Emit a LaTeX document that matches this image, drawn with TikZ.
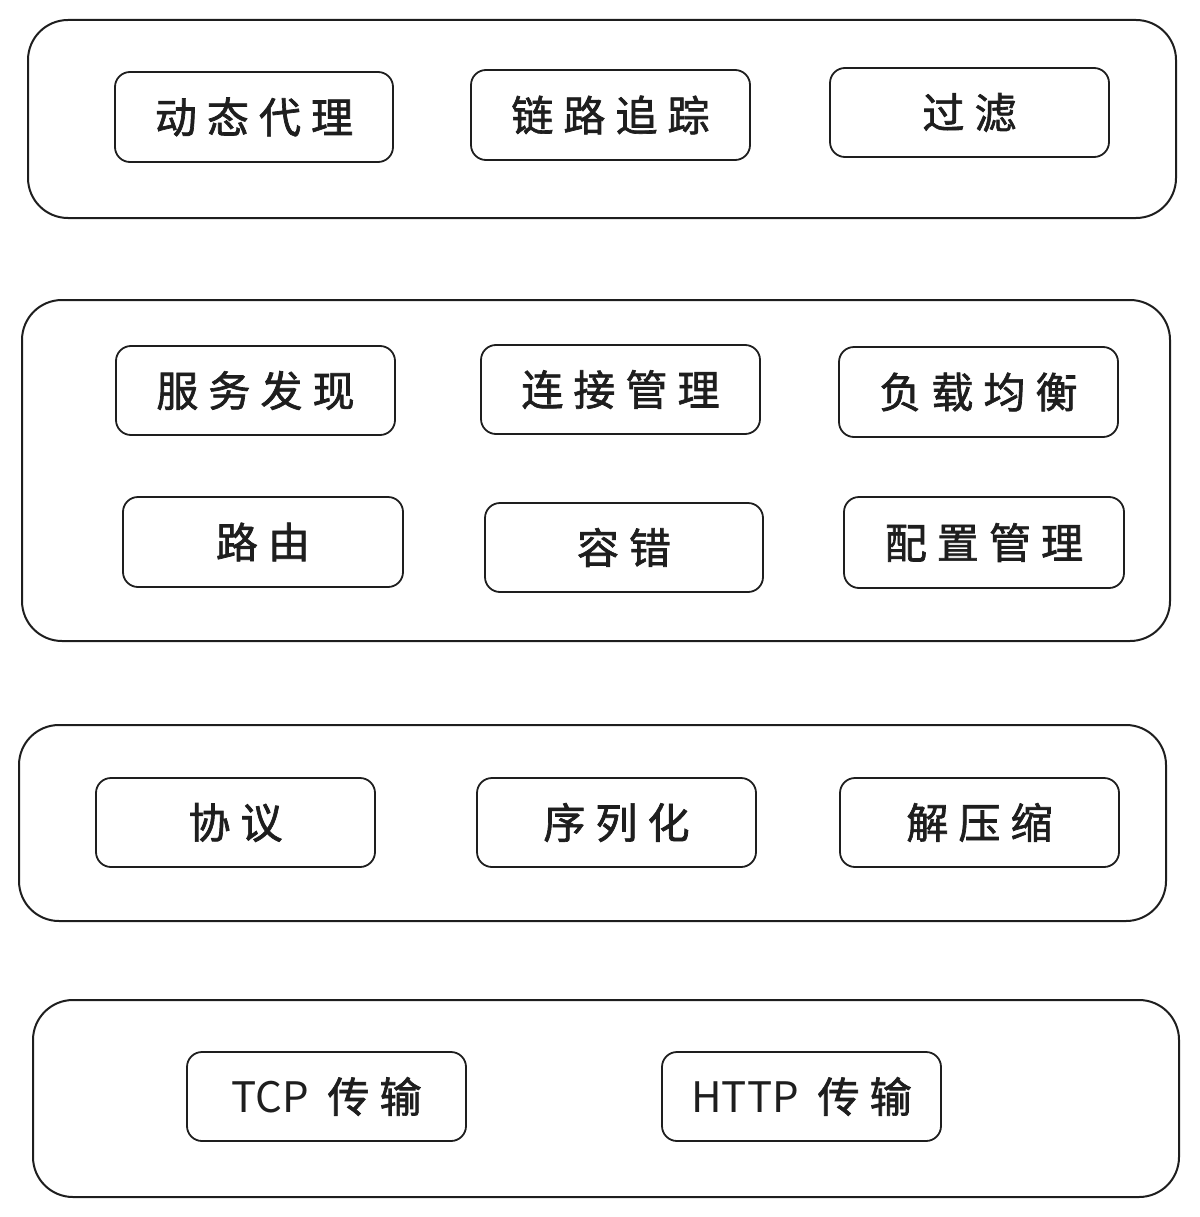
\documentclass[tikz,border=0pt]{standalone}
\usepackage{fontspec}
\setmainfont{Noto Sans CJK SC}[LetterSpace=24,FakeBold=1.6]
\newfontfamily\latinfont{Noto Sans CJK SC}
\definecolor{ink}{HTML}{1E1E1E}
\newcommand{\lat}[1]{{\latinfont #1}}
\begin{document}
\begin{tikzpicture}[x=1pt,y=-1pt,
  layer/.style={draw=ink, line width=2pt, rounded corners=40pt},
  item/.style={draw=ink, line width=1.8pt, rounded corners=15pt},
  label/.style={text=ink, font=\fontsize{42}{44}\selectfont, inner sep=0pt}]
\useasboundingbox (0,0) rectangle (1199,1217);
% layers
\draw[layer] (28,20) rectangle (1176,218);
\draw[layer] (22,300) rectangle (1170,641);
\draw[layer] (19,725) rectangle (1166,921);
\draw[layer] (33,1000) rectangle (1179,1197);
% boxes
\newcommand{\itembox}[6]{%
  \draw[item] (#2,#3) rectangle (#4,#5);
  \node[label] (#1) at ({(#2+#4)/2},{(#3+#5)/2}) {#6};}
\itembox{a1}{115}{72}{393}{162}{动态代理}
\itembox{a2}{471}{70}{750}{160}{链路追踪}
\itembox{a3}{830}{68}{1109}{157}{过滤}
\itembox{b1}{116}{346}{395}{435}{服务发现}
\itembox{b2}{481}{345}{760}{434}{连接管理}
\itembox{b3}{839}{347}{1118}{437}{负载均衡}
\itembox{b4}{123}{497}{403}{587}{路由}
\itembox{b5}{485}{503}{763}{592}{容错}
\itembox{b6}{844}{497}{1124}{588}{配置管理}
\itembox{c1}{96}{778}{375}{867}{协议}
\itembox{c2}{477}{778}{756}{867}{序列化}
\itembox{c3}{840}{778}{1119}{867}{解压缩}
\itembox{d1}{187}{1052}{466}{1141}{\lat{TCP\ \ }传输}
\itembox{d2}{662}{1052}{941}{1141}{\lat{HTTP\ \ }传输}
\end{tikzpicture}
\end{document}
